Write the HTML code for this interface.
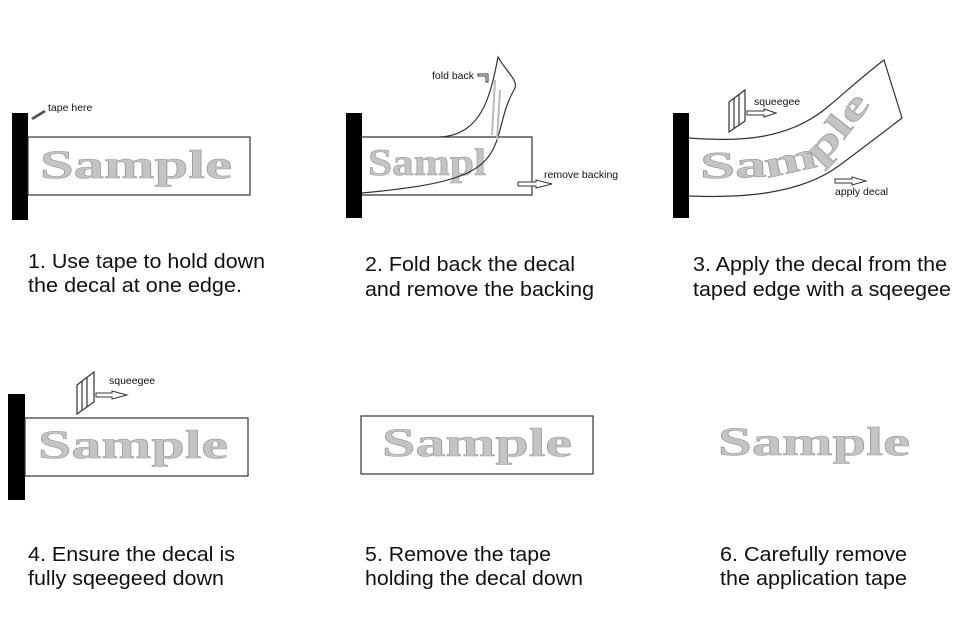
<!DOCTYPE html>
<html><head><meta charset="utf-8"><style>
html,body{margin:0;padding:0;background:#fff;}
svg{display:block}
.s{font-family:"Liberation Serif",serif;font-weight:bold;fill:#c4c4c4;stroke:#999;stroke-width:0.6;}
.c{font-family:"Liberation Sans",sans-serif;font-size:20px;fill:#111;}
.l{font-family:"Liberation Sans",sans-serif;font-size:10.5px;fill:#111;}
.ln{fill:none;stroke:#333;stroke-width:1.2;}
.ar{fill:#fff;stroke:#333;stroke-width:1;}
</style></head><body>
<svg width="960" height="628" viewBox="0 0 960 628" xmlns="http://www.w3.org/2000/svg">
<!-- Panel 1 -->
<rect x="12" y="113" width="16" height="107" fill="#000"/>
<rect x="28" y="137" width="222" height="58" class="ln"/>
<text x="40" y="178" class="s" font-size="40" textLength="192" lengthAdjust="spacingAndGlyphs">Sample</text>
<path d="M31 118 L44 110 L46 112 L33 120 Z" fill="#555"/>
<text x="48" y="111" class="l">tape here</text>
<text x="28" y="268" class="c" textLength="237" lengthAdjust="spacingAndGlyphs">1. Use tape to hold down</text>
<text x="28" y="292" class="c" textLength="214" lengthAdjust="spacingAndGlyphs">the decal at one edge.</text>

<!-- Panel 2 -->
<rect x="346" y="113" width="16" height="105" fill="#000"/>
<path d="M362 137 H532 V195 H362" class="ln"/>
<text x="368" y="175" class="s" font-size="38" textLength="118" lengthAdjust="spacingAndGlyphs">Sampl</text>
<path d="M440 137 C480 135 490 100 498 57 C505 70 518 80 515 88 C508 100 505 110 500 130 C490 170 470 183 362 193" class="ln"/>
<path d="M495 80 L492 135 M500 90 L497 140" stroke="#bbb" stroke-width="2" fill="none"/>
<text x="432" y="79" class="l">fold back</text>
<path d="M478 74 H488 V82 H486 V76 H478 Z" class="ar"/>
<text x="544" y="178" class="l">remove backing</text>
<path d="M518 182 H536 V180 L552 184 L536 188 V186 H518 Z" class="ar"/>
<text x="365" y="271" class="c" textLength="210" lengthAdjust="spacingAndGlyphs">2. Fold back the decal</text>
<text x="365" y="296" class="c" textLength="229" lengthAdjust="spacingAndGlyphs">and remove the backing</text>

<!-- Panel 3 -->
<rect x="673" y="113" width="16" height="105" fill="#000"/>
<path d="M689 138 C740 142 790 140 830 105 C850 88 868 72 884 60 L902 118 C880 135 860 150 840 165 C800 195 740 198 689 196" class="ln"/>
<path id="tp" d="M700 178 C770 178 805 176 830 155 C850 135 866 110 882 88" fill="none"/>
<text class="s" font-size="38"><textPath href="#tp" textLength="200" lengthAdjust="spacingAndGlyphs">Sample</textPath></text>
<path d="M729 102 L745 90 L745 121 L729 132 Z M734 98 L734 128 M739 95 L739 125" class="ln" stroke-width="1"/>
<text x="754" y="105" class="l">squeegee</text>
<path d="M747 111 H764 V109 L776 113 L764 117 V115 H747 Z" class="ar"/>
<text x="835" y="195" class="l">apply decal</text>
<path d="M835 179 H852 V177 L866 181 L852 185 V183 H835 Z" class="ar"/>
<text x="693" y="271" class="c" textLength="254" lengthAdjust="spacingAndGlyphs">3. Apply the decal from the</text>
<text x="693" y="296" class="c" textLength="258" lengthAdjust="spacingAndGlyphs">taped edge with a sqeegee</text>

<!-- Panel 4 -->
<rect x="8" y="394" width="17" height="106" fill="#000"/>
<rect x="25" y="418" width="223" height="58" class="ln"/>
<text x="38" y="458" class="s" font-size="40" textLength="190" lengthAdjust="spacingAndGlyphs">Sample</text>
<path d="M77 385 L94 372 L94 402 L77 414 Z M82 381 L82 410 M87 378 L87 407" class="ln" stroke-width="1"/>
<text x="109" y="384" class="l">squeegee</text>
<path d="M96 393 H112 V391 L127 395 L112 399 V397 H96 Z" class="ar"/>
<text x="28" y="561" class="c" textLength="207" lengthAdjust="spacingAndGlyphs">4. Ensure the decal is</text>
<text x="28" y="585" class="c" textLength="196" lengthAdjust="spacingAndGlyphs">fully sqeegeed down</text>

<!-- Panel 5 -->
<rect x="361" y="416" width="232" height="58" class="ln"/>
<text x="382" y="456" class="s" font-size="40" textLength="190" lengthAdjust="spacingAndGlyphs">Sample</text>
<text x="365" y="561" class="c" textLength="186" lengthAdjust="spacingAndGlyphs">5. Remove the tape</text>
<text x="365" y="585" class="c" textLength="218" lengthAdjust="spacingAndGlyphs">holding the decal down</text>

<!-- Panel 6 -->
<text x="718" y="455" class="s" font-size="40" textLength="192" lengthAdjust="spacingAndGlyphs">Sample</text>
<text x="720" y="561" class="c" textLength="187" lengthAdjust="spacingAndGlyphs">6. Carefully remove</text>
<text x="720" y="585" class="c" textLength="187" lengthAdjust="spacingAndGlyphs">the application tape</text>
</svg>
</body></html>
